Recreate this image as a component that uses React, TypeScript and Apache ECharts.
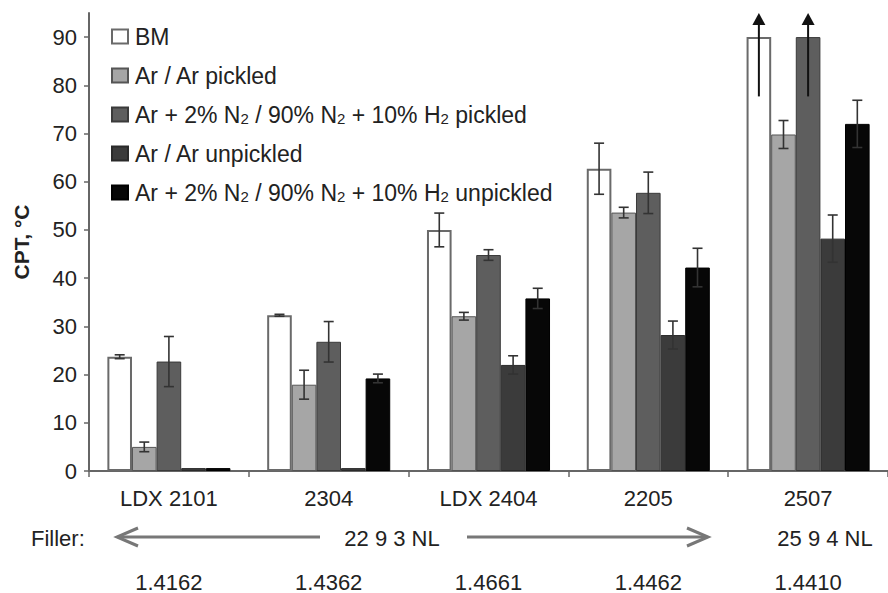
import React, { useEffect, useRef } from "react";
import * as echarts from "echarts";

const categories = ["LDX 2101", "2304", "LDX 2404", "2205", "2507"];
const ratioLabels = ["1.4162", "1.4362", "1.4661", "1.4462", "1.4410"];
const seriesNames = [
  "BM",
  "Ar / Ar pickled",
  "Ar + 2% N2 / 90% N2 + 10% H2 pickled",
  "Ar / Ar unpickled",
  "Ar + 2% N2 / 90% N2 + 10% H2 unpickled",
];
const bmValues = [23.7, 32.3, 50.0, 62.7, 90];
const arPickledValues = [5.0, 17.9, 32.1, 53.6, 69.8];
const n2PickledValues = [22.7, 26.8, 44.8, 57.7, 90];
const arUnpickledValues = [0.6, 0.6, 22.0, 28.2, 48.2];
const n2UnpickledValues = [0.6, 19.2, 35.8, 42.2, 72.0];

const bmErr = [0.4, 0.2, 3.5, 5.3, null];
const arPickledErr = [1.0, 3.0, 0.8, 1.1, 2.9];
const n2PickledErr = [5.2, 4.2, 1.1, 4.3, null];
const arUnpickledErr = [null, null, 1.9, 2.9, 4.9];
const n2UnpickledErr = [null, 0.9, 2.1, 4.0, 4.9];

// open-ended results (> 90 °C): [categoryIndex, seriesIndex, from, to]
const arrowUps = [
  [4, 0, 77.7, 95],
  [4, 2, 77.7, 95],
];

const yTicks = [0, 10, 20, 30, 40, 50, 60, 70, 80, 90];
const fillerLabel = "Filler:";
const fillerGroupA = "22 9 3 NL";
const fillerGroupB = "25 9 4 NL";

const seriesColors = ["#ffffff", "#a6a6a6", "#5e5e5e", "#3b3b3b", "#070707"];
const seriesBorders = ["#6a6a6a", "#555555", "#3a3a3a", "#2a2a2a", "#000000"];
const FONT = "Liberation Sans, Arial, sans-serif";
const BAR_FRACTION = 0.77;

export default function App() {
  const ref = useRef<HTMLDivElement>(null);

  useEffect(() => {
    if (!ref.current) return;
    const chart = echarts.init(ref.current, null, { renderer: "svg" });

    const values = [bmValues, arPickledValues, n2PickledValues, arUnpickledValues, n2UnpickledValues];
    const errs = [bmErr, arPickledErr, n2PickledErr, arUnpickledErr, n2UnpickledErr];

    const errData: any[] = [];
    errs.forEach((arr, s) => {
      arr.forEach((e, c) => {
        if (e != null) errData.push([c, s, values[s][c] - e, values[s][c] + e, 0]);
      });
    });
    arrowUps.forEach((a) => errData.push([a[0], a[1], a[2], a[3], 1]));

    const barSeries = seriesNames.map((name, i) => ({
      name,
      type: "bar",
      data: values[i],
      barGap: "0%",
      barCategoryGap: `${Math.round((1 - BAR_FRACTION) * 100)}%`,
      itemStyle: {
        color: seriesColors[i],
        borderColor: seriesBorders[i],
        borderWidth: i === 0 ? 2 : 1,
      },
      z: 2,
    }));

    const legendFormatter = (name: string) =>
      name.replace(/N2/g, "N{s|2}").replace(/H2/g, "H{s|2}");

    const option: any = {
      animation: false,
      textStyle: { fontFamily: FONT },
      grid: { left: 89, top: 13, width: 812, height: 459 },
      legend: {
        orient: "vertical",
        left: 106,
        top: 20,
        itemWidth: 16,
        itemHeight: 14,
        itemGap: 16,
        icon: "rect",
        data: seriesNames,
        formatter: legendFormatter,
        textStyle: {
          fontFamily: FONT,
          fontSize: 23,
          color: "#222",
          lineHeight: 23,
          padding: [0, 0, 0, 2],
          rich: {
            s: {
              fontFamily: FONT,
              fontSize: 15,
              color: "#222",
              lineHeight: 23,
              verticalAlign: "bottom",
              padding: [8, 0, 0, 0],
            },
          },
        },
      },
      xAxis: [
        {
          type: "category",
          data: categories,
          position: "bottom",
          axisLine: { show: true, lineStyle: { color: "#666", width: 2 } },
          axisTick: { show: true, length: 6, lineStyle: { color: "#666", width: 1.5 } },
          axisLabel: { fontFamily: FONT, fontSize: 22, color: "#222", margin: 16 },
        },
        {
          type: "category",
          data: ratioLabels,
          position: "bottom",
          offset: 84,
          axisLine: { show: false },
          axisTick: { show: false },
          axisLabel: { fontFamily: FONT, fontSize: 22, color: "#222", margin: 16 },
        },
      ],
      yAxis: {
        type: "value",
        min: 0,
        max: 95,
        interval: 10,
        name: "CPT, °C",
        nameLocation: "middle",
        nameGap: 57,
        nameRotate: 90,
        nameTextStyle: { fontFamily: FONT, fontSize: 21, fontWeight: "bold", color: "#222" },
        axisLine: { show: true, lineStyle: { color: "#666", width: 2 } },
        axisTick: { show: true, length: 5, customValues: yTicks, lineStyle: { color: "#666", width: 1.5 } },
        axisLabel: { fontFamily: FONT, fontSize: 22, color: "#222", margin: 12, customValues: yTicks },
        splitLine: { show: false },
      },
      series: [
        ...barSeries,
        {
          type: "custom",
          name: "errors",
          xAxisIndex: 0,
          yAxisIndex: 0,
          z: 5,
          clip: false,
          encode: { x: 0, y: [2, 3] },
          data: errData,
          renderItem: (params: any, api: any) => {
            const c = api.value(0);
            const s = api.value(1);
            const lo = api.value(2);
            const hi = api.value(3);
            const arrow = api.value(4);
            const center = api.coord([c, 0])[0];
            const band = api.size([1, 0])[0];
            const bw = (band * BAR_FRACTION) / 5;
            const x = center + (s - 2) * bw;
            const yLo = api.coord([c, lo])[1];
            const yHi = api.coord([c, hi])[1];
            const col = arrow ? "#111" : "#333";
            const style = { stroke: col, lineWidth: 1.6 };
            if (arrow) {
              const base = yHi + 12;
              return {
                type: "group",
                children: [
                  { type: "line", shape: { x1: x, y1: yLo, x2: x, y2: base }, style: { stroke: col, lineWidth: 2 } },
                  {
                    type: "polygon",
                    shape: { points: [[x, yHi], [x - 6.5, base], [x + 6.5, base]] },
                    style: { fill: col },
                  },
                ],
              };
            }
            const cap = 5;
            return {
              type: "group",
              children: [
                { type: "line", shape: { x1: x, y1: yLo, x2: x, y2: yHi }, style },
                { type: "line", shape: { x1: x - cap, y1: yHi, x2: x + cap, y2: yHi }, style },
                { type: "line", shape: { x1: x - cap, y1: yLo, x2: x + cap, y2: yLo }, style },
              ],
            };
          },
        },
      ],
      graphic: [
        {
          type: "text",
          x: 31,
          y: 538,
          style: { text: fillerLabel, font: `22px ${FONT}`, fill: "#222", textAlign: "left", textVerticalAlign: "middle" },
        },
        {
          type: "text",
          x: 392,
          y: 538,
          style: { text: fillerGroupA, font: `22px ${FONT}`, fill: "#222", textAlign: "center", textVerticalAlign: "middle" },
        },
        {
          type: "text",
          x: 825,
          y: 538,
          style: { text: fillerGroupB, font: `22px ${FONT}`, fill: "#222", textAlign: "center", textVerticalAlign: "middle" },
        },
        { type: "line", shape: { x1: 118, y1: 537, x2: 320, y2: 537 }, style: { stroke: "#777", lineWidth: 3 } },
        {
          type: "polyline",
          shape: { points: [[138, 528], [117, 537], [138, 546]] },
          style: { stroke: "#777", lineWidth: 3, fill: null },
        },
        { type: "line", shape: { x1: 467, y1: 537, x2: 706, y2: 537 }, style: { stroke: "#777", lineWidth: 3 } },
        {
          type: "polyline",
          shape: { points: [[687, 528], [708, 537], [687, 546]] },
          style: { stroke: "#777", lineWidth: 3, fill: null },
        },
      ],
    };

    chart.setOption(option);
    return () => chart.dispose();
  }, []);

  return (
    <div
      ref={ref}
      style={{ position: "fixed", left: 0, top: 0, width: 888, height: 593, background: "#fff" }}
    />
  );
}
